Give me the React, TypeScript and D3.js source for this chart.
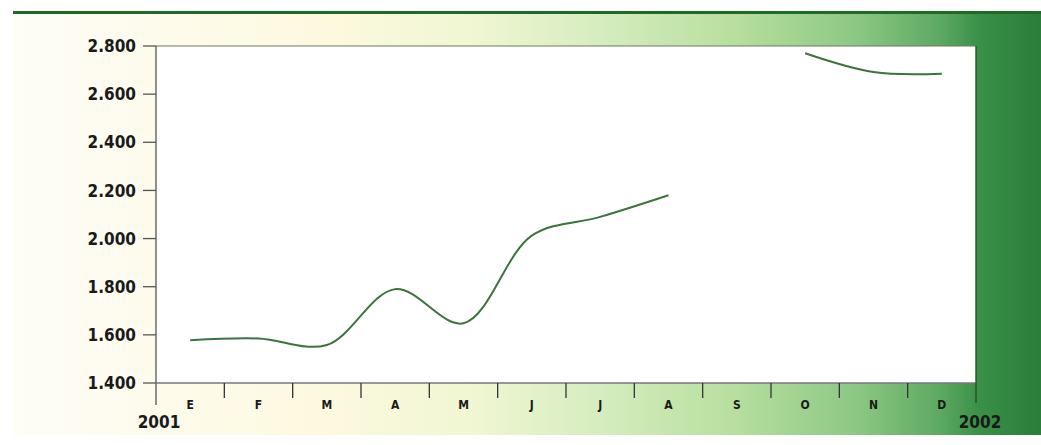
import React from "react";
import * as d3 from "d3";

const months = ["E", "F", "M", "A", "M", "J", "J", "A", "S", "O", "N", "D"];
const values: (number | null)[] = [1578, 1585, 1558, 1790, 1648, 2012, 2090, 2180, null, 2770, 2692, 2685];
const yTicks = [1400, 1600, 1800, 2000, 2200, 2400, 2600, 2800];
const yearLabels = ["2001", "2002"];

const W = 1041;
const H = 445;
const left = 156;
const right = 976;
const top = 46;
const bottom = 383;

const FONT = "'DejaVu Sans Condensed', sans-serif";

export default function App() {
  const x = d3.scaleLinear().domain([0, 12]).range([left, right]);
  const y = d3.scaleLinear().domain([1400, 2800]).range([bottom, top]);
  const loc = d3.formatLocale({ decimal: ",", thousands: ".", grouping: [3], currency: ["", ""] });
  const fmt = loc.format(",d");

  const line = d3
    .line<number | null>()
    .defined((d) => d !== null)
    .x((_, i) => x(i + 0.5))
    .y((d) => y(d as number))
    .curve(d3.curveCatmullRom.alpha(0.5));

  return (
    <svg width={W} height={H} style={{ position: "absolute", left: 0, top: 0 }}>
      <defs>
        <linearGradient id="bg" x1="0" y1="0" x2="1" y2="0">
          <stop offset="0" stopColor="#fefdf6" />
          <stop offset="0.3" stopColor="#fdf9e0" />
          <stop offset="0.45" stopColor="#f0f6d2" />
          <stop offset="0.57" stopColor="#d6edbf" />
          <stop offset="0.7" stopColor="#b8df9f" />
          <stop offset="0.82" stopColor="#8cc884" />
          <stop offset="0.9" stopColor="#5eaa62" />
          <stop offset="0.94" stopColor="#3a9048" />
          <stop offset="1" stopColor="#2a7d3a" />
        </linearGradient>
      </defs>
      <rect x={0} y={0} width={W} height={H} fill="#ffffff" />
      <rect x={13} y={13} width={W - 13} height={H - 13 - 10} fill="url(#bg)" />
      <line x1={13} x2={W} y1={12.5} y2={12.5} stroke="#1e6a27" strokeWidth={3} />
      <rect x={left} y={top} width={right - left} height={bottom - top} fill="#ffffff" />
      <line x1={left} x2={right} y1={top} y2={top} stroke="#6f7a5c" strokeWidth={1.2} />

      {/* y axis */}
      <line x1={left} x2={left} y1={top} y2={405} stroke="#555" strokeWidth={1.3} />
      {yTicks.map((t) => (
        <g key={t}>
          <line x1={143} x2={left} y1={y(t)} y2={y(t)} stroke="#555" strokeWidth={1.3} />
          <text
            x={136}
            y={y(t)}
            dy="0.36em"
            textAnchor="end"
            fontFamily={FONT}
            fontWeight="bold"
            fontSize={17}
            fill="#1a1a1a"
          >
            {fmt(t)}
          </text>
        </g>
      ))}

      {/* x axis */}
      <line x1={left} x2={right} y1={bottom} y2={bottom} stroke="#777" strokeWidth={1.3} />
      <line x1={right} x2={right} y1={top} y2={403} stroke="#244f2a" strokeWidth={1.4} />
      {d3.range(1, 12).map((i) => (
        <line key={i} x1={x(i)} x2={x(i)} y1={bottom} y2={398} stroke="#333" strokeWidth={1.3} />
      ))}
      {months.map((m, i) => (
        <text
          key={i}
          x={x(i + 0.5)}
          y={409}
          textAnchor="middle"
          fontFamily={FONT}
          fontWeight="bold"
          fontSize={12}
          fill="#1a1a1a"
        >
          {m}
        </text>
      ))}
      <text x={159} y={428} textAnchor="middle" fontFamily={FONT} fontWeight="bold" fontSize={17} fill="#1a1a1a">
        {yearLabels[0]}
      </text>
      <text x={980} y={428} textAnchor="middle" fontFamily={FONT} fontWeight="bold" fontSize={17} fill="#1a1a1a">
        {yearLabels[1]}
      </text>

      <path d={line(values) || ""} fill="none" stroke="#3d733d" strokeWidth={2} />
    </svg>
  );
}
